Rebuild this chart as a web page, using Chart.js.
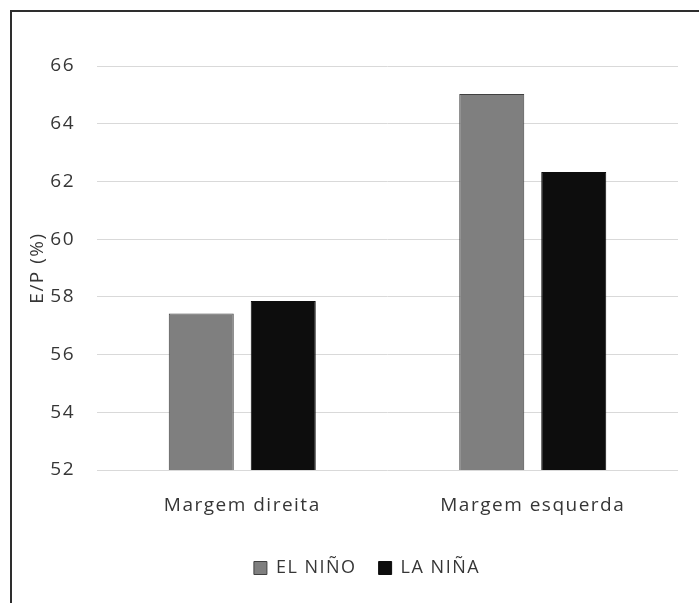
<!DOCTYPE html>
<html>
<head>
<meta charset="utf-8">
<script src="https://cdn.jsdelivr.net/npm/chart.js@4/dist/chart.umd.min.js"></script>
<style>
  html, body { margin: 0; padding: 0; background: #ffffff; }
  #wrap { position: relative; width: 699px; height: 603px; overflow: hidden; }
  #frame {
    position: absolute; left: 10px; top: 10px; width: 760px; height: 660px;
    border-left: 2px solid #2e2e2e; border-top: 2px solid #2e2e2e;
    pointer-events: none;
  }
  canvas { position: absolute; left: 0; top: 0; }
</style>
</head>
<body>
<div id="wrap">
  <canvas id="c" width="699" height="603"></canvas>
  <div id="frame"></div>
</div>
<script>
// Evaporation / precipitation ratio by river bank and ENSO phase
const categories = ['Margem direita', 'Margem esquerda'];
const elNino = [57.42, 65.03];
const laNina = [57.86, 62.33];
const seriesNames = ['EL NIÑO', 'LA NIÑA'];
const yTitle = 'E/P (%)';
const yMin = 52, yMax = 66, yStep = 2;

const textColor = '#363636';
const baseFont = { family: "'Open Sans', sans-serif", size: 19 };

// Wider letter spacing for all canvas text
const spacing = {
  id: 'spacing',
  beforeLayout(chart) { chart.ctx.letterSpacing = '1.5px'; },
  beforeDraw(chart) { chart.ctx.letterSpacing = '1.5px'; }
};

// Nudge the legend so it sits centred under the whole frame
const legendShift = {
  id: 'legendShift',
  afterLayout(chart) {
    const l = chart.legend;
    if (l) { l.left += 28; l.right += 28; }
  }
};

new Chart(document.getElementById('c'), {
  type: 'bar',
  data: {
    labels: categories,
    datasets: [
      { label: seriesNames[0], data: elNino, backgroundColor: '#7f7f7f', borderColor: '#404040', borderWidth: 1 },
      { label: seriesNames[1], data: laNina, backgroundColor: '#0d0d0d', borderColor: '#0d0d0d', borderWidth: 1 }
    ]
  },
  options: {
    responsive: false,
    animation: false,
    devicePixelRatio: 1,
    layout: { padding: { left: 0, right: 21, top: 66, bottom: 16 } },
    datasets: { bar: { categoryPercentage: 0.5645, barPercentage: 0.793 } },
    plugins: {
      legend: {
        position: 'bottom',
        labels: {
          color: textColor,
          font: { family: baseFont.family, size: 18 },
          boxWidth: 13, boxHeight: 13, padding: 22
        }
      },
      tooltip: { enabled: false }
    },
    scales: {
      x: {
        grid: { display: false, drawTicks: false },
        border: { display: false },
        ticks: { color: textColor, font: baseFont, padding: 24 },
        afterFit(s) { s.height = 67; }
      },
      y: {
        min: yMin, max: yMax,
        grid: { color: '#d9d9d9', lineWidth: 1, drawTicks: false },
        border: { display: false },
        ticks: { stepSize: yStep, color: textColor, font: baseFont, padding: 22 },
        title: { display: true, text: yTitle, color: textColor, font: baseFont, padding: { top: 26, bottom: 0 } },
        afterFit(s) { s.width = 97; }
      }
    }
  },
  plugins: [spacing, legendShift]
});
</script>
</body>
</html>
